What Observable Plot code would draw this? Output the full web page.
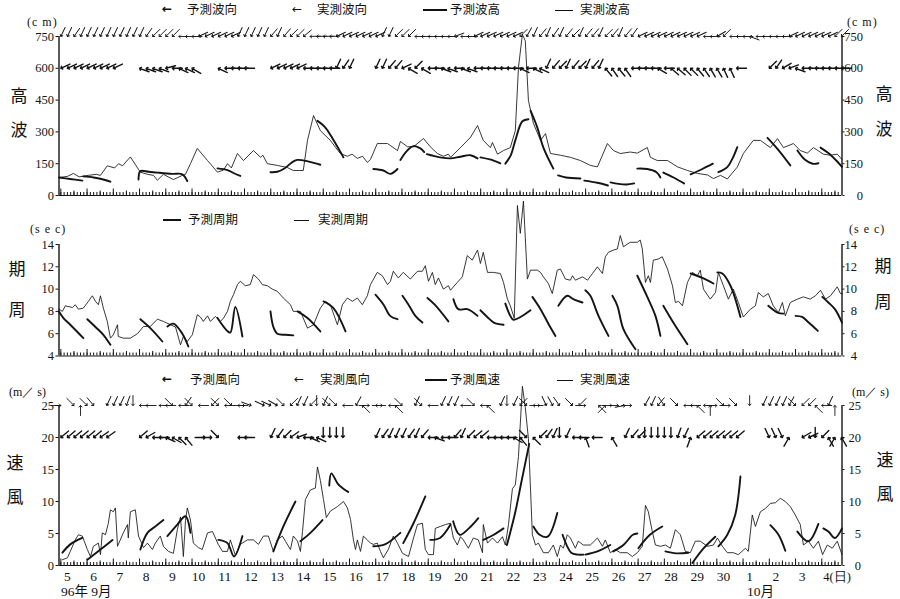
<!DOCTYPE html>
<html><head><meta charset="utf-8">
<script src="https://cdn.jsdelivr.net/npm/d3@7"></script>
<script src="https://cdn.jsdelivr.net/npm/@observablehq/plot@0.6"></script>
<style>
body{margin:0;background:#fff;}
#c{position:relative;width:900px;height:599px;overflow:hidden;font-family:"Liberation Serif",serif;color:#111;background:#fff;}
#c svg{position:absolute;left:0;overflow:visible;}
.t{position:absolute;white-space:nowrap;line-height:1;}
.cjk{font-family:"Noto Sans CJK JP",sans-serif;}
.ln{position:absolute;background:#111;}
</style></head><body><div id="c"></div><script>
// ---------- data (time t in days; label "d" sits at t=d, Oct 1 = 31) ----------
const dayTicks = d3.range(5, 34);
const dayLabels = ["5","6","7","8","9","10","11","12","13","14","15","16","17","18","19","20","21","22","23","24","25","26","27","28","29","30","1","2","3"];

const obsWave = [[4.68,85],[5.0,90],[5.23,104],[5.45,88],[5.8,95],[6.1,100],[6.26,95],[6.52,140],[6.8,130],[6.95,150],[7.1,140],[7.40,182],[7.78,110],[8.05,100],[8.28,95],[8.43,72],[8.66,100],[9.04,75],[9.38,95],[9.50,100],[9.69,150],[9.95,222],[10.34,165],[10.72,110],[10.95,120],[11.10,150],[11.25,130],[11.48,198],[11.71,165],[12.09,212],[12.36,180],[12.45,190],[12.62,150],[13.00,142],[13.38,132],[13.61,118],[13.99,118],[14.15,260],[14.38,377],[14.64,306],[15.02,260],[15.40,198],[15.67,185],[15.85,195],[16.05,175],[16.25,185],[16.43,156],[16.55,170],[16.81,245],[17.20,245],[17.58,212],[17.69,255],[17.96,230],[18.19,230],[18.57,269],[18.83,230],[19.10,198],[19.33,185],[19.52,195],[19.60,180],[19.98,226],[20.36,274],[20.63,330],[20.85,260],[21.12,226],[21.20,250],[21.39,195],[21.62,212],[21.88,226],[22.07,306],[22.19,604],[22.34,760],[22.45,730],[22.57,448],[22.76,340],[23.03,260],[23.22,292],[23.41,198],[23.79,190],[24.17,180],[24.55,165],[24.93,142],[25.20,135],[25.58,245],[25.81,212],[26.07,198],[26.45,205],[26.72,200],[27.10,226],[27.22,180],[27.48,165],[27.87,165],[28.25,135],[28.63,118],[29.01,104],[29.39,97],[29.62,80],[29.89,95],[30.15,78],[30.53,134],[30.76,198],[31.14,260],[31.41,260],[31.79,226],[32.06,268],[32.29,226],[32.67,245],[32.93,212],[33.20,200],[33.43,226],[33.81,195],[34.08,190],[34.34,195],[34.52,170]];

const fcWave = [
 [[4.68,85],[5.1,78],[5.57,70]],
 [[5.6,90],[6.0,85],[6.3,78],[6.64,65]],
 [[7.71,75],[7.78,115],[8.1,112],[8.43,108],[9.0,102],[9.38,100],[9.57,68]],
 [[10.72,128],[11.1,120],[11.35,105],[11.59,92]],
 [[12.74,110],[13.0,112],[13.3,130],[13.6,160],[13.77,168],[14.2,160],[14.64,145]],
 [[14.53,352],[14.8,325],[15.1,270],[15.52,180]],
 [[16.66,125],[17.04,118],[17.31,102],[17.58,125]],
 [[17.69,168],[17.95,212],[18.19,233],[18.45,222],[18.6,205]],
 [[18.7,195],[19.2,180],[19.6,175],[19.98,183],[20.36,190],[20.63,175]],
 [[20.74,180],[21.1,170],[21.5,152]],
 [[21.69,150],[21.9,190],[22.07,260],[22.34,350],[22.57,360]],
 [[22.65,400],[22.91,320],[23.14,226],[23.52,127]],
 [[23.7,95],[24.0,85],[24.55,80]],
 [[24.7,70],[25.2,60],[25.6,47]],
 [[25.7,62],[26.0,55],[26.3,52],[26.6,57]],
 [[26.72,127],[27.1,125],[27.45,110],[27.6,85]],
 [[27.71,108],[28.1,85],[28.5,57]],
 [[28.75,100],[29.2,125],[29.6,150]],
 [[29.81,110],[30.15,134],[30.35,175],[30.53,228]],
 [[31.68,272],[32.06,220],[32.55,142]],
 [[32.82,212],[33.1,170],[33.4,150],[33.62,152]],
 [[33.7,226],[34.0,200],[34.3,165],[34.52,135]]
];

// wave direction arrows every 6 h from t=4.75 (rotation, degrees clockwise from north, arrow points the way it goes)
const obsWaveDir = [205,205,215,205,205,205,205,205,205,205,205,205,205,215,225,225,225,225,270,270,270,245,245,245,245,245,245,205,205,205,205,205,220,205,220,225,225,230,268,268,268,268,245,245,245,245,245,245,245,205,205,225,225,225,270,270,270,270,270,270,250,270,270,245,245,245,245,245,245,245,225,210,205,220,205,215,205,220,225,205,220,220,205,225,220,205,220,215,245,245,245,245,245,245,245,245,245,245,270,270,240,225,270,270,270,290,270,270,270,270,270,245,245,245,245,245,245,245,225,225];
const fcWaveDir = [245,245,245,245,245,245,245,245,245,null,null,null,290,290,290,290,255,270,295,295,300,null,null,null,295,270,270,270,270,null,null,null,245,245,245,245,245,270,270,270,270,270,205,215,205,null,null,null,205,205,220,220,245,300,225,300,270,270,290,290,270,290,290,270,270,270,270,270,270,270,295,270,295,295,205,220,225,205,220,225,205,220,205,320,325,320,325,270,270,270,270,300,270,310,310,315,315,320,325,330,330,335,335,270,null,null,null,null,225,215,240,250,290,270,270,270,270,270,270,270];

const obsPeriod = [[4.68,8.2],[4.81,8.0],[4.92,8.5],[5.19,8.35],[5.30,8.6],[5.42,8.2],[5.61,8.3],[5.80,8.9],[5.95,9.4],[6.07,8.9],[6.18,8.6],[6.26,9.4],[6.37,8.3],[6.52,7.1],[6.64,5.6],[6.75,5.9],[6.91,6.8],[6.94,5.75],[7.13,5.6],[7.40,5.6],[7.67,6.0],[7.90,6.65],[8.16,6.65],[8.43,7.3],[8.66,7.1],[8.93,6.8],[9.12,6.6],[9.31,5.0],[9.42,5.75],[9.57,5.3],[9.76,5.9],[9.95,7.7],[10.07,7.5],[10.18,7.1],[10.34,7.6],[10.45,7.1],[10.64,7.55],[10.83,7.1],[10.95,7.4],[11.10,8.0],[11.21,8.9],[11.33,9.5],[11.48,10.4],[11.59,10.7],[11.78,10.3],[11.97,10.4],[12.09,11.3],[12.28,10.9],[12.43,10.4],[12.62,10.3],[12.81,10.0],[13.00,9.8],[13.23,9.2],[13.50,8.6],[13.61,8.0],[13.88,8.0],[14.15,6.5],[14.38,6.8],[14.64,8.3],[14.83,8.9],[15.02,8.6],[15.29,6.8],[15.48,8.6],[15.67,9.2],[15.86,8.9],[16.05,9.2],[16.24,8.6],[16.43,9.4],[16.55,10.4],[16.81,11.5],[17.00,11.2],[17.20,10.4],[17.31,10.7],[17.42,11.6],[17.61,11.0],[17.80,11.5],[18.07,10.9],[18.34,11.6],[18.53,11.6],[18.64,12.1],[18.76,10.7],[18.91,11.5],[19.02,10.4],[19.14,11.0],[19.33,10.0],[19.52,10.3],[19.60,9.9],[19.86,10.6],[20.05,11.1],[20.24,13.0],[20.43,12.6],[20.63,13.5],[20.74,12.3],[20.85,13.3],[21.01,11.5],[21.23,11.5],[21.50,11.4],[21.62,10.6],[21.77,9.1],[21.88,8.5],[22.03,7.4],[22.15,17.5],[22.26,15.0],[22.38,17.9],[22.53,10.9],[22.65,11.7],[22.91,11.7],[23.03,11.5],[23.14,11.1],[23.33,10.5],[23.48,9.6],[23.67,11.7],[23.79,11.8],[23.98,10.9],[24.17,10.8],[24.25,11.2],[24.36,10.8],[24.63,11.1],[24.82,10.8],[25.01,11.4],[25.20,12.0],[25.39,11.4],[25.50,12.9],[25.62,13.3],[25.81,13.5],[25.96,13.6],[26.07,14.8],[26.19,13.8],[26.45,14.2],[26.72,14.2],[26.83,14.4],[26.91,13.6],[27.03,10.6],[27.14,11.2],[27.22,10.6],[27.33,12.6],[27.52,12.7],[27.67,12.9],[27.87,11.8],[28.06,10.3],[28.17,8.8],[28.29,8.9],[28.44,8.5],[28.63,10.6],[28.82,11.5],[29.01,11.2],[29.12,11.7],[29.24,10.0],[29.50,9.1],[29.70,9.7],[29.81,11.5],[30.00,10.3],[30.19,9.1],[30.38,10.0],[30.57,8.8],[30.76,7.5],[31.03,8.2],[31.22,8.5],[31.33,9.7],[31.52,9.3],[31.71,9.6],[31.90,8.5],[32.10,7.9],[32.25,8.8],[32.36,7.6],[32.55,8.8],[32.82,9.1],[33.05,9.3],[33.31,9.1],[33.51,9.4],[33.70,9.9],[33.89,9.1],[34.08,9.4],[34.34,10.2],[34.46,9.6],[34.52,9.6]];

const fcPeriod = [
 [[4.68,8.0],[4.85,7.4],[5.11,6.8],[5.61,5.6]],
 [[5.76,7.3],[6.07,6.6],[6.37,5.9],[6.64,5.0]],
 [[7.78,7.3],[8.16,6.5],[8.62,5.3]],
 [[8.81,6.65],[9.04,6.9],[9.38,6.0],[9.61,4.85]],
 [[10.72,7.4],[11.07,6.3],[11.21,6.1],[11.40,8.4],[11.67,5.75]],
 [[12.74,8.0],[12.85,6.6],[13.0,6.0],[13.3,5.9],[13.61,5.85]],
 [[13.77,8.0],[14.15,7.4],[14.64,6.2]],
 [[14.76,8.9],[15.14,8.3],[15.6,6.2]],
 [[16.74,9.5],[17.05,8.6],[17.3,7.6],[17.58,7.3]],
 [[17.77,9.4],[18.0,8.6],[18.26,7.6],[18.53,7.0]],
 [[18.72,9.2],[19.0,8.6],[19.52,7.1]],
 [[19.71,9.1],[19.9,8.2],[20.24,8.2],[20.63,7.6]],
 [[20.74,8.1],[21.0,7.5],[21.25,7.0],[21.62,6.8]],
 [[21.69,8.7],[21.88,7.6],[22.0,7.25],[22.65,8.1]],
 [[22.72,9.3],[23.03,8.2],[23.33,6.9],[23.6,5.8]],
 [[23.71,8.5],[24.05,9.4],[24.28,9.1],[24.63,8.8]],
 [[24.74,9.9],[24.93,9.4],[25.24,7.6],[25.62,5.8]],
 [[25.77,9.4],[25.96,8.5],[26.19,6.4],[26.65,4.6]],
 [[26.72,11.2],[27.1,9.3],[27.41,7.6],[27.6,5.8]],
 [[27.71,8.5],[28.09,7.0],[28.63,5.05]],
 [[28.75,11.4],[29.2,11.0],[29.62,10.5]],
 [[29.77,11.5],[29.96,11.4],[30.27,10.3],[30.65,7.5]],
 [[31.71,8.5],[32.06,7.9],[32.29,7.8]],
 [[32.75,7.6],[33.0,7.5],[33.25,7.0],[33.6,6.25]],
 [[33.77,9.3],[34.0,8.8],[34.25,8.2],[34.52,7.0]]
];

const obsWind = [[4.81,0.9],[5.0,1.2],[5.11,2.2],[5.30,4.0],[5.42,4.8],[5.57,4.6],[5.76,2.5],[5.88,1.4],[5.99,3.0],[6.18,3.5],[6.26,1.7],[6.33,5.1],[6.45,4.8],[6.56,6.6],[6.64,8.7],[6.75,8.4],[6.83,9.0],[6.91,3.0],[7.13,5.1],[7.29,6.4],[7.32,4.3],[7.40,8.4],[7.59,8.7],[7.71,4.6],[7.90,2.8],[8.05,3.5],[8.24,2.5],[8.35,3.5],[8.54,4.6],[8.66,3.0],[8.85,2.2],[9.04,1.9],[9.19,5.6],[9.31,7.6],[9.42,1.4],[9.50,7.0],[9.57,9.0],[9.69,7.1],[9.80,3.5],[9.99,2.8],[10.14,2.5],[10.34,5.1],[10.53,5.3],[10.75,3.3],[10.91,2.2],[11.10,2.2],[11.21,4.0],[11.40,1.6],[11.59,3.3],[11.86,4.0],[12.09,4.0],[12.28,3.3],[12.47,4.6],[12.66,4.6],[12.85,2.2],[13.0,4.0],[13.19,4.6],[13.31,3.8],[13.50,2.5],[13.61,4.6],[13.77,3.8],[13.88,2.2],[13.96,5.3],[14.07,10.3],[14.26,11.8],[14.45,12.1],[14.53,15.4],[14.64,13.3],[14.76,10.3],[14.87,7.5],[15.02,8.5],[15.29,9.2],[15.52,10.0],[15.67,9.0],[15.79,7.2],[15.90,4.0],[15.98,2.5],[16.05,4.0],[16.17,2.2],[16.28,4.6],[16.43,4.0],[16.55,3.5],[16.66,3.3],[16.81,3.5],[16.93,2.2],[17.04,1.2],[17.23,2.5],[17.42,4.6],[17.58,3.5],[17.77,1.9],[18.0,1.4],[18.19,4.3],[18.34,6.4],[18.53,6.6],[18.64,2.5],[18.76,1.7],[18.95,1.7],[19.02,5.8],[19.21,6.1],[19.41,6.4],[19.60,6.6],[19.71,4.3],[19.86,3.2],[19.98,4.5],[20.09,4.0],[20.28,2.7],[20.47,4.3],[20.66,4.0],[20.82,2.0],[20.85,6.4],[21.01,3.5],[21.20,4.3],[21.39,3.5],[21.58,4.5],[21.69,3.2],[21.81,6.4],[21.96,12.0],[22.07,12.6],[22.19,17.0],[22.34,28],[22.45,24.7],[22.57,19.8],[22.72,4.8],[22.84,3.2],[22.95,3.5],[23.14,2.0],[23.33,2.0],[23.52,3.2],[23.67,1.4],[23.79,3.2],[23.90,2.7],[24.05,4.8],[24.17,4.3],[24.36,2.7],[24.47,3.8],[24.66,3.2],[24.93,3.2],[25.20,4.3],[25.39,3.0],[25.50,4.0],[25.69,2.0],[25.88,2.5],[26.07,2.0],[26.34,2.0],[26.53,1.4],[26.72,2.0],[26.91,3.0],[27.03,9.4],[27.14,8.4],[27.29,5.3],[27.41,3.2],[27.60,3.0],[27.79,3.2],[27.98,2.7],[28.17,5.6],[28.36,4.8],[28.55,2.2],[28.74,2.0],[28.93,3.8],[29.12,3.8],[29.39,3.0],[29.62,3.2],[29.77,4.3],[29.96,3.0],[30.15,2.0],[30.38,2.0],[30.57,1.7],[30.84,2.7],[30.95,2.2],[31.10,7.9],[31.22,6.1],[31.41,8.4],[31.60,8.9],[31.79,9.7],[31.98,9.8],[32.17,10.5],[32.36,10.0],[32.55,9.2],[32.74,7.9],[32.93,6.4],[33.05,3.2],[33.24,3.8],[33.43,2.7],[33.62,3.8],[33.78,1.7],[33.96,3.2],[34.15,2.7],[34.34,3.8],[34.52,1.7]];

const fcWind = [
 [[4.81,2.0],[5.11,3.3],[5.57,4.3]],
 [[5.76,0.9],[6.26,2.5],[6.72,4.0]],
 [[7.78,2.5],[8.05,5.1],[8.35,6.1],[8.66,7.1]],
 [[8.81,4.6],[9.19,6.4],[9.5,7.7],[9.69,5.1]],
 [[10.75,4.0],[11.1,3.5],[11.35,1.4],[11.67,4.6]],
 [[12.85,2.2],[13.23,6.1],[13.69,10.0]],
 [[13.88,3.8],[14.26,5.1],[14.72,7.1]],
 [[14.98,12.5],[15.06,14.4],[15.3,12.8],[15.48,12.1],[15.7,11.5]],
 [[16.66,3.0],[17.1,3.3],[17.69,5.1]],
 [[17.8,3.5],[18.19,6.6],[18.64,10.8]],
 [[18.83,4.0],[19.2,4.3],[19.6,6.4]],
 [[19.7,6.9],[19.95,4.8],[20.3,5.8],[20.66,7.4]],
 [[20.85,4.0],[21.25,4.8],[21.62,5.8]],
 [[21.75,3.2],[22.05,8.0],[22.3,13.0],[22.6,19.0]],
 [[22.76,6.1],[23.0,4.8],[23.3,4.5],[23.67,8.2]],
 [[23.87,4.8],[24.2,2.0],[24.45,1.7],[24.67,1.7]],
 [[24.74,1.7],[25.2,2.2],[25.69,3.2]],
 [[25.8,2.2],[26.19,3.2],[26.55,4.8],[26.72,5.0]],
 [[26.76,2.7],[27.2,4.8],[27.67,6.1]],
 [[27.79,2.2],[28.2,1.9],[28.67,2.0]],
 [[28.82,0.4],[29.25,2.7],[29.69,4.5]],
 [[29.81,3.0],[30.15,4.8],[30.45,7.9],[30.65,13.9]],
 [[31.79,6.3],[32.1,4.8],[32.36,2.3]],
 [[32.82,5.3],[33.24,3.8],[33.62,6.5]],
 [[33.81,5.8],[34.0,5.3],[34.25,4.3],[34.52,5.8]]
];

const obsWindDir = [90,null,135,0,135,140,null,205,205,205,200,180,270,270,null,270,270,135,270,215,135,270,null,225,135,270,135,270,90,110,null,115,115,120,135,225,205,205,225,180,205,135,135,270,null,210,315,90,270,90,270,315,135,null,205,135,270,null,205,205,205,270,null,135,270,315,null,205,180,205,225,135,270,90,155,150,145,null,135,225,90,null,315,45,90,90,80,90,null,210,205,220,145,null,135,270,270,315,270,0,90,135,90,135,null,180,null,205,205,205,205,210,135,225,225,315,270,205,0,null];
const fcWindDir = [230,230,230,230,230,230,235,235,null,null,null,null,230,240,270,270,295,300,315,320,null,null,90,90,135,null,null,270,270,null,null,null,205,215,225,235,250,270,295,295,180,180,180,180,null,null,null,null,205,215,205,205,205,215,205,220,270,290,270,270,220,205,225,230,230,270,270,270,270,300,320,135,315,225,215,205,180,205,270,270,340,270,null,null,330,null,205,220,225,180,180,180,180,180,200,205,20,230,230,230,230,230,230,230,null,null,null,null,155,155,155,30,null,240,245,180,225,330,30,330];

// ---------- drawing ----------
const C = document.getElementById("c");
const INK = "#141414";
const XD = [4.68, 34.52];
const minorTicks = d3.range(4.75, 34.5, 0.125);
const halfTicks = d3.range(5.25, 34.5, 1);
const bigTicks = d3.range(4.75, 34.6, 1);

function arrows(dirs, yv) {
  return dirs.map((r, i) => ({t: 4.75 + 0.25 * i, r, y: yv})).filter(d => d.r != null);
}

function panel({top, height, mt, mb, yd, yticks, obs, fc, rowObs, rowFc, bottom, rpad}) {
  const [y0, y1] = yd;
  const marks = [
    Plot.ruleX(XD, {y1: y0, y2: y1, stroke: INK, strokeWidth: 1.4}),
    Plot.ruleY([y0], {stroke: INK, strokeWidth: 1.2}),
    Plot.axisX({ticks: minorTicks, tickSize: -3, tickFormat: () => "", stroke: INK, label: null}),
    Plot.axisX({ticks: halfTicks, tickSize: -4.5, tickFormat: () => "", stroke: INK, label: null}),
    Plot.axisX({ticks: bigTicks, tickSize: -6.5, tickFormat: () => "", stroke: INK, label: null}),
    Plot.axisY({anchor: "left", ticks: yticks, tickSize: 3, tickPadding: 2, label: null, fontSize: 12.5}),
    Plot.axisY({anchor: "right", ticks: yticks, tickSize: 2, tickPadding: rpad, textAnchor: "end", label: null, fontSize: 12.5}),
    Plot.line(obs, {x: d => d[0], y: d => d[1], stroke: INK, strokeWidth: 0.85, strokeLinejoin: "round"}),
    ...fc.map(s => Plot.line(s, {x: d => d[0], y: d => d[1], curve: "catmull-rom", stroke: INK, strokeWidth: 1.9, strokeLinecap: "round"}))
  ];
  if (rowObs) marks.push(Plot.vector(arrows(rowObs.dirs, rowObs.y), {x: "t", y: "y", rotate: "r", length: 10, anchor: "end", shape: "arrow", r: 2.6, stroke: INK, strokeWidth: 0.9}));
  if (rowFc) marks.push(Plot.vector(arrows(rowFc.dirs, rowFc.y), {x: "t", y: "y", rotate: "r", length: 10, anchor: "end", shape: "arrow", r: 2.6, stroke: INK, strokeWidth: 1.4}));
  if (bottom) {
    marks.push(Plot.axisX({ticks: dayTicks, tickSize: 0, tickPadding: 6, tickFormat: (d, i) => dayLabels[dayTicks.indexOf(d)], label: null, fontSize: 13.5}));
    marks.push(Plot.text([34], {x: d => d, frameAnchor: "bottom", text: () => "4(日)", dy: 15, dx: -5, textAnchor: "start", fontSize: 12.5, fontFamily: "Liberation Serif"}));
  }
  const svg = Plot.plot({
    width: 900, height, marginLeft: 58.5, marginRight: 58.5, marginTop: mt, marginBottom: mb,
    x: {domain: XD},
    y: {domain: yd},
    style: {fontFamily: "Liberation Serif", color: INK, background: "transparent", overflow: "visible"},
    marks
  });
  svg.style.top = top + "px";
  C.appendChild(svg);
}

panel({top: 0, height: 205, mt: 36, mb: 10, yd: [0, 750], yticks: [0,150,300,450,600,750], obs: obsWave, fc: fcWave,
  rowObs: {dirs: obsWaveDir, y: 750}, rowFc: {dirs: fcWaveDir, y: 600}, rpad: 19});
panel({top: 200, height: 170, mt: 44, mb: 14.5, yd: [4, 14], yticks: [4,6,8,10,12,14], obs: obsPeriod, fc: fcPeriod, rpad: 13});
panel({top: 370, height: 229, mt: 35, mb: 34, yd: [0, 25], yticks: [0,5,10,15,20,25], obs: obsWind, fc: fcWind,
  rowObs: {dirs: obsWindDir, y: 25}, rowFc: {dirs: fcWindDir, y: 20}, bottom: true, rpad: 17});

// ---------- texts ----------
function txt(s, x, y, cls, css) {
  const d = document.createElement("div");
  d.className = "t " + (cls || "");
  d.textContent = s;
  d.style.left = x + "px"; d.style.top = y + "px";
  if (css) Object.assign(d.style, css);
  C.appendChild(d);
  return d;
}
function line(x, y, w, h) {
  const d = document.createElement("div");
  d.className = "ln";
  Object.assign(d.style, {left: x + "px", top: y + "px", width: w + "px", height: h + "px"});
  C.appendChild(d);
}
const L = {fontSize: "12.5px"};
function legendArrow(x, y, bold) {
  txt("←", x, y - 7, "", {fontFamily: "DejaVu Sans", fontSize: "12px", fontWeight: bold ? "bold" : "normal"});
}
// row 1
legendArrow(162, 10, true); txt("予測波向", 187, 3, "cjk", L);
legendArrow(292, 10, false); txt("実測波向", 317, 3, "cjk", L);
line(423, 9, 24, 2); txt("予測波高", 450, 3, "cjk", L);
line(555, 9.5, 18, 1); txt("実測波高", 580, 3, "cjk", L);
// row 2
line(163, 219, 18, 2); txt("予測周期", 188, 213, "cjk", L);
line(294, 219.5, 15, 1); txt("実測周期", 318, 213, "cjk", L);
// row 3
legendArrow(162, 380, true); txt("予測風向", 190, 373, "cjk", L);
legendArrow(294, 380, false); txt("実測風向", 320, 373, "cjk", L);
line(425, 379, 22, 2); txt("予測風速", 450, 373, "cjk", L);
line(557, 379.5, 16, 1); txt("実測風速", 580, 373, "cjk", L);

// units
const U = {fontSize: "12px", letterSpacing: "1px"};
txt("(c m)", 27, 16, "", U); txt("(c m)", 847, 16, "", U);
txt("(s e c)", 30, 223, "", U); txt("(s e c)", 849, 223, "", U);
txt("(m／ s)", 9, 386, "", {fontSize: "12px"}); txt("(m／ s)", 852, 386, "", {fontSize: "12px"});

// axis titles (characters upright)
const T = {fontSize: "17px", transform: "translate(-50%,-50%)"};
txt("高", 19, 94, "cjk", T); txt("波", 19, 128, "cjk", T);
txt("高", 884, 92, "cjk", T); txt("波", 884, 127, "cjk", T);
txt("期", 17, 267, "cjk", T); txt("周", 17, 308, "cjk", T);
txt("期", 883, 264, "cjk", T); txt("周", 883, 300, "cjk", T);
txt("速", 15, 461, "cjk", T); txt("風", 15, 495, "cjk", T);
txt("速", 885, 458, "cjk", T); txt("風", 885, 492, "cjk", T);

// date captions
txt("96年 9月", 61, 585, "", {fontSize: "13.5px", fontFamily: "Liberation Serif, Noto Sans CJK JP"});
txt("10月", 747, 585, "", {fontSize: "13.5px", fontFamily: "Liberation Serif, Noto Sans CJK JP"});
</script></body></html>
